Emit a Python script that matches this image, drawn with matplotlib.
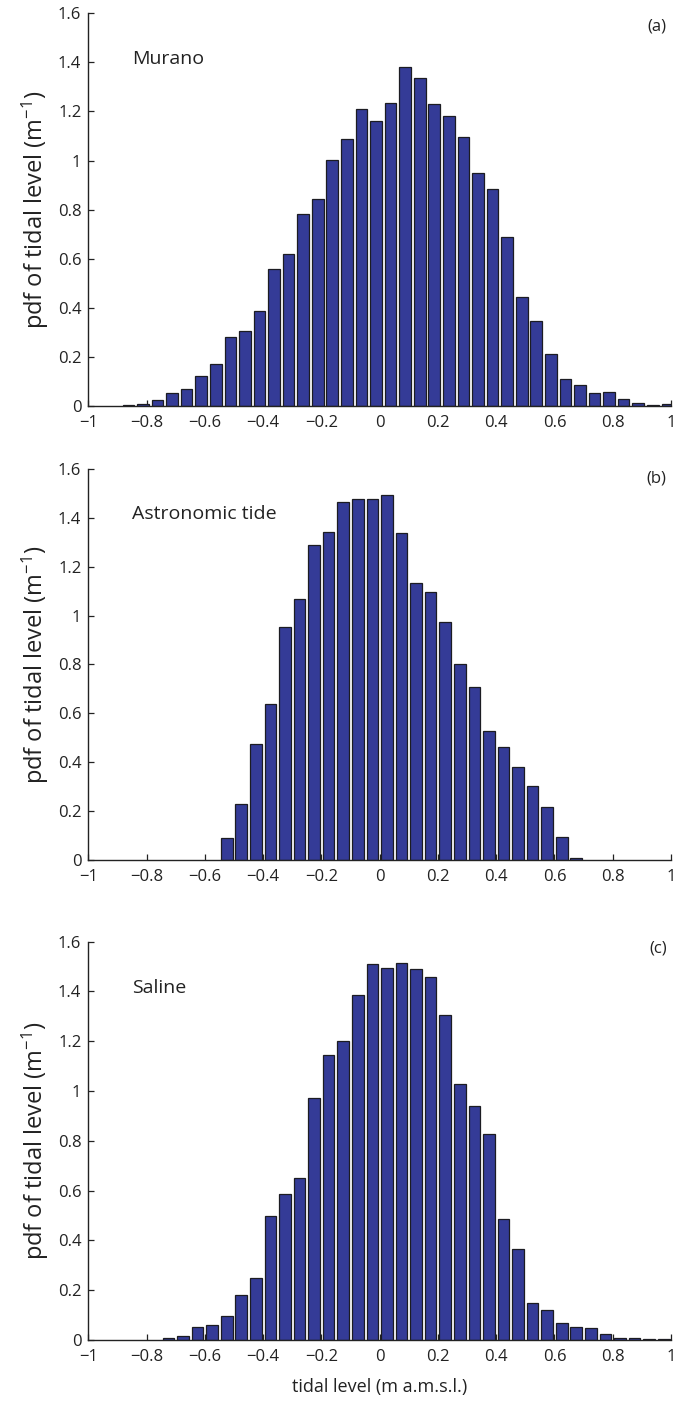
import matplotlib
matplotlib.use("Agg")
import matplotlib.pyplot as plt
from matplotlib.ticker import FuncFormatter

plt.rcParams["font.family"] = ["Open Sans", "DejaVu Sans"]
plt.rcParams["mathtext.fontset"] = "custom"
plt.rcParams["mathtext.rm"] = "Open Sans"
plt.rcParams["mathtext.default"] = "regular"

# Histogram bin centres (m a.m.s.l.) and pdf values (1/m) for each station
murano_level = [-0.8625, -0.8125, -0.7625, -0.7125, -0.6625, -0.6125, -0.5625, -0.5125,
                -0.4625, -0.4125, -0.3625, -0.3125, -0.2625, -0.2125, -0.1625, -0.1125,
                -0.0625, -0.0125, 0.0375, 0.0875, 0.1375, 0.1875, 0.2375, 0.2875,
                0.3375, 0.3875, 0.4375, 0.4875, 0.5375, 0.5875, 0.6375, 0.6875,
                0.7375, 0.7875, 0.8375, 0.8875, 0.9375, 0.9875]
murano_pdf = [0.003, 0.008, 0.025, 0.052, 0.070, 0.123, 0.172, 0.281,
              0.305, 0.388, 0.559, 0.618, 0.782, 0.843, 1.002, 1.088,
              1.212, 1.160, 1.236, 1.383, 1.336, 1.231, 1.181, 1.094,
              0.949, 0.886, 0.688, 0.443, 0.345, 0.210, 0.110, 0.086,
              0.053, 0.056, 0.028, 0.012, 0.005, 0.010]

astro_level = [-0.525, -0.475, -0.425, -0.375, -0.325, -0.275, -0.225, -0.175,
               -0.125, -0.075, -0.025, 0.025, 0.075, 0.125, 0.175, 0.225,
               0.275, 0.325, 0.375, 0.425, 0.475, 0.525, 0.575, 0.625, 0.675]
astro_pdf = [0.087, 0.227, 0.475, 0.636, 0.954, 1.070, 1.288, 1.341,
             1.465, 1.480, 1.477, 1.494, 1.339, 1.134, 1.096, 0.975,
             0.803, 0.708, 0.525, 0.460, 0.378, 0.300, 0.216, 0.091, 0.006]

saline_level = [-0.725, -0.675, -0.625, -0.575, -0.525, -0.475, -0.425, -0.375,
                -0.325, -0.275, -0.225, -0.175, -0.125, -0.075, -0.025, 0.025,
                0.075, 0.125, 0.175, 0.225, 0.275, 0.325, 0.375, 0.425,
                0.475, 0.525, 0.575, 0.625, 0.675, 0.725, 0.775, 0.825,
                0.875, 0.925, 0.975]
saline_pdf = [0.007, 0.016, 0.052, 0.060, 0.095, 0.181, 0.250, 0.497,
              0.588, 0.652, 0.972, 1.143, 1.202, 1.387, 1.511, 1.493,
              1.514, 1.490, 1.457, 1.305, 1.028, 0.939, 0.827, 0.485,
              0.367, 0.147, 0.121, 0.068, 0.052, 0.047, 0.024, 0.009,
              0.007, 0.006, 0.003]

station_names = ["Murano", "Astronomic tide", "Saline"]
panel_tags = ["(a)", "(b)", "(c)"]
x_ticks = [-1, -0.8, -0.6, -0.4, -0.2, 0, 0.2, 0.4, 0.6, 0.8, 1]
y_ticks = [0, 0.2, 0.4, 0.6, 0.8, 1, 1.2, 1.4, 1.6]

series = [(murano_level, murano_pdf), (astro_level, astro_pdf), (saline_level, saline_pdf)]

W, H = 677, 1404
fig = plt.figure(figsize=(W / 100, H / 100), dpi=100)

# axes boxes in pixels: (left, top, right, bottom)
boxes = [(88.3, 13.3, 671.0, 406.0),
         (88.3, 469.3, 671.0, 859.5),
         (88.3, 941.7, 671.0, 1340.0)]
tag_y = [1.53, 1.544, 1.555]

bar_face = "#343b97"
bar_edge = "#1c1c22"
ink = "#222222"

fmt = FuncFormatter(lambda v, p: ("%g" % v).replace("-", "\u2212"))

for i, (ax_box, (lvl, pdf)) in enumerate(zip(boxes, series)):
    l, t, r, b = ax_box
    ax = fig.add_axes([l / W, 1 - b / H, (r - l) / W, (b - t) / H])
    ax.bar(lvl, pdf, width=0.04, color=bar_face, edgecolor=bar_edge, linewidth=0.9,
           zorder=2, clip_on=True)
    ax.set_xlim(-1, 1)
    ax.set_ylim(0, 1.6)
    ax.set_xticks(x_ticks)
    ax.set_yticks(y_ticks)
    ax.xaxis.set_major_formatter(fmt)
    ax.yaxis.set_major_formatter(fmt)
    for side in ("top", "right"):
        ax.spines[side].set_visible(False)
    for side in ("left", "bottom"):
        ax.spines[side].set_color(ink)
        ax.spines[side].set_linewidth(1.0)
        ax.spines[side].set_zorder(3)
    ax.tick_params(direction="in", length=4, width=0.9, color=ink,
                   labelsize=12, labelcolor=ink)
    ax.tick_params(axis="y", pad=5)
    ax.tick_params(axis="x", pad=6.5)
    ax.set_ylabel("pdf of tidal level (m$^{-1}$)", fontsize=17, color=ink)
    ax.yaxis.set_label_coords(-0.064, 0.5)
    ax.text(-0.85, 1.395, station_names[i], fontsize=14, color=ink,
            ha="left", va="baseline")
    ax.text(0.985, tag_y[i], panel_tags[i], fontsize=12, color=ink,
            ha="right", va="baseline")
    if i == 2:
        ax.set_xlabel("tidal level (m a.m.s.l.)", fontsize=13, color=ink, labelpad=9)

fig.savefig("out.png", dpi=100)
